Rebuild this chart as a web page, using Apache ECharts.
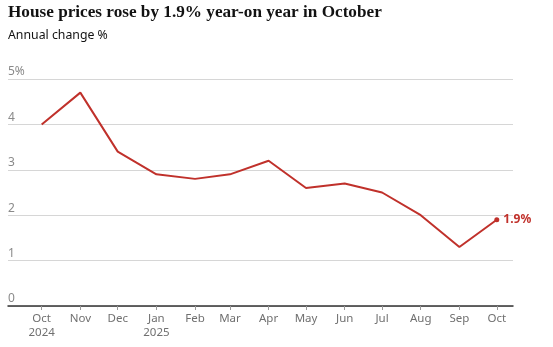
<!DOCTYPE html>
<html><head><meta charset="utf-8">
<script src="https://cdn.jsdelivr.net/npm/echarts@6/dist/echarts.min.js"></script>
<style>html,body{margin:0;padding:0;background:#fff}#c{width:553px;height:347px}</style>
</head><body><div id="c"></div>
<script>
const months = ['2024-10-01','2024-11-01','2024-12-01','2025-01-01','2025-02-01','2025-03-01','2025-04-01','2025-05-01','2025-06-01','2025-07-01','2025-08-01','2025-09-01','2025-10-01'];
const monthLabels = ['Oct\n2024','Nov','Dec','Jan\n2025','Feb','Mar','Apr','May','Jun','Jul','Aug','Sep','Oct'];
const annualChange = [4.0,4.7,3.4,2.9,2.8,2.9,3.2,2.6,2.7,2.5,2.0,1.3,1.9];
const yTicks = [0,1,2,3,4,5];

const DAY = 86400000;
const ts = months.map(m => Math.round(Date.parse(m + 'T00:00:00Z') / DAY));
const labelMap = {};
ts.forEach((t,i)=>labelMap[t]=monthLabels[i]);
const red = '#c0312b';
const data = ts.map((t,i)=>{
  const d = {value:[t, annualChange[i]]};
  if (i === ts.length-1) {
    d.symbol = 'circle'; d.symbolSize = 5;
    d.label = {show:true, position:'right', distance:4, formatter: annualChange[i].toFixed(1)+'%',
      color: red, fontWeight:'bold', fontSize:12, fontFamily:'Noto Sans'};
  }
  return d;
});
const chart = echarts.init(document.getElementById('c'), null, {renderer:'canvas'});
chart.setOption({
  animation:false,
  title:[
    {text:'House prices rose by 1.9% year-on year in October', left:8, top:4, padding:0,
     textStyle:{fontFamily:'Liberation Serif', fontWeight:'bold', fontSize:17.2, color:'#121212'}},
    {text:'Annual change %', left:8, top:29, padding:0,
     textStyle:{fontFamily:'Noto Sans', fontWeight:'normal', fontSize:12.3, color:'#121212'}}
  ],
  grid:{left:8, right:40, top:79, bottom:41, containLabel:false},
  xAxis:{
    type:'value',
    min: ts[0] - 27,
    max: ts[ts.length-1] + 13,
    axisLine:{show:true, onZero:false, lineStyle:{color:'#333', width:1.5}},
    axisTick:{show:true, customValues: ts, length:4, lineStyle:{color:'#999'}},
    axisLabel:{customValues: ts, formatter: v => labelMap[v] || '', color:'#707070',
      fontFamily:'Noto Sans', fontSize:11.5, lineHeight:14, margin:6, hideOverlap:false},
    splitLine:{show:false}
  },
  yAxis:{
    type:'value', min:0, max:5, interval:1,
    axisLine:{show:false}, axisTick:{show:false},
    axisLabel:{inside:true, verticalAlign:'bottom', margin:0, padding:[0,0,1,0],
      formatter: v => v===5 ? '5%' : String(v), color:'#8a8a8a', fontFamily:'Noto Sans', fontSize:12},
    splitLine:{lineStyle:{color:'#d6d6d6', width:1}}
  },
  series:[{
    type:'line', data:data, showSymbol:true, symbol:'none',
    lineStyle:{color:red, width:2}, itemStyle:{color:red},
    z:5
  }]
});
</script></body></html>
